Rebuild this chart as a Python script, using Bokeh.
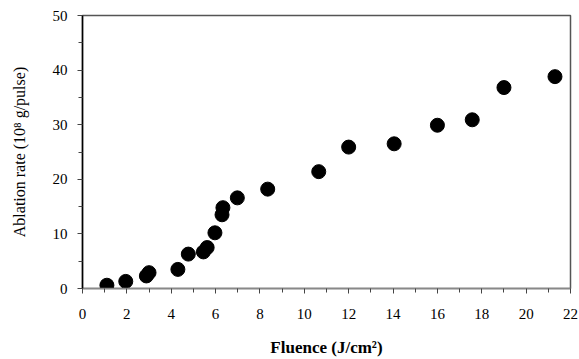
from bokeh.plotting import figure
from bokeh.models import ColumnDataSource, FixedTicker, Range1d
from bokeh.embed import file_html
from bokeh.resources import INLINE

fluence = [1.1, 1.95, 2.88, 3.0, 4.3, 4.77, 5.45, 5.62, 5.97, 6.29, 6.33, 6.98,
           8.35, 10.65, 12.0, 14.05, 16.0, 17.57, 19.0, 21.3]
ablation = [0.6, 1.3, 2.3, 2.9, 3.5, 6.3, 6.7, 7.5, 10.2, 13.5, 14.8, 16.6,
            18.2, 21.4, 25.9, 26.5, 29.9, 30.9, 36.8, 38.8]

x_ticks = [0, 2, 4, 6, 8, 10, 12, 14, 16, 18, 20, 22]
y_ticks = [0, 10, 20, 30, 40, 50]

src = ColumnDataSource(data=dict(x=fluence, y=ablation))

p = figure(width=579, height=359, output_backend="svg", toolbar_location=None,
           x_range=Range1d(0, 22), y_range=Range1d(0, 50),
           min_border_left=82, min_border_right=9, min_border_top=15, min_border_bottom=67)

p.scatter("x", "y", source=src, size=14, marker="circle", fill_color="black", line_color="black")

p.xgrid.visible = False
p.ygrid.visible = False
p.outline_line_color = "#555555"
p.outline_line_width = 1.5
p.background_fill_color = "white"
p.border_fill_color = "white"

font = "Liberation Serif"

p.xaxis.ticker = FixedTicker(ticks=x_ticks, minor_ticks=list(range(1, 22, 2)))
p.yaxis.ticker = FixedTicker(ticks=y_ticks, minor_ticks=[5, 15, 25, 35, 45])

for ax in (p.xaxis[0], p.yaxis[0]):
    ax.major_label_text_font = font
    ax.major_label_text_font_size = "15px"
    ax.major_label_text_color = "black"
    ax.axis_label_text_font = font
    ax.axis_label_text_font_size = "16px"
    ax.axis_label_text_font_style = "normal"
    ax.axis_label_text_color = "black"
    ax.major_tick_in = 0
    ax.major_tick_out = 5
    ax.minor_tick_in = 0
    ax.minor_tick_out = 4
    ax.axis_line_width = 1.5

p.xaxis.axis_label = "Fluence (J/cm²)"
p.xaxis.axis_label_text_font_style = "bold"
p.xaxis.axis_label_text_font_size = "17px"
p.xaxis.axis_line_color = "#888888"
p.xaxis.major_tick_line_color = "#444444"
p.xaxis.minor_tick_line_color = "#444444"
p.xaxis.major_label_standoff = 15
p.xaxis.axis_label_standoff = 16

p.yaxis.axis_label = "Ablation rate (10⁸ g/pulse)"
p.yaxis.axis_line_color = "black"
p.yaxis.major_tick_line_color = "#444444"
p.yaxis.minor_tick_line_color = "#444444"
p.yaxis.major_label_standoff = 10
p.yaxis.axis_label_standoff = 22

open("out.html", "w").write(file_html(p, INLINE))
